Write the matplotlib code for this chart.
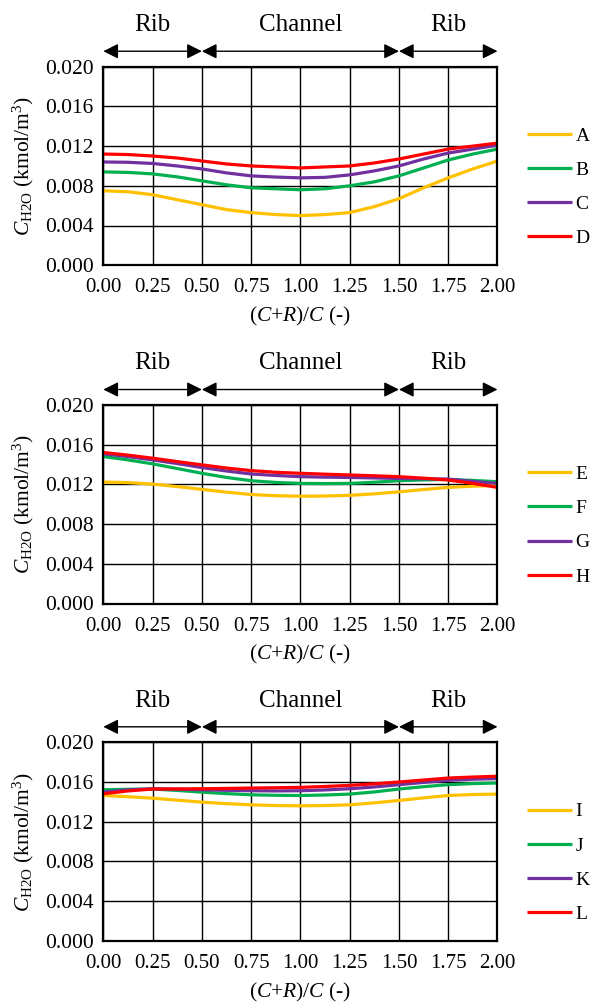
import numpy as np
import matplotlib
matplotlib.use("Agg")
import matplotlib.pyplot as plt

plt.rcParams["font.family"] = ["Liberation Serif", "DejaVu Serif"]
plt.rcParams["mathtext.fontset"] = "custom"
plt.rcParams["mathtext.rm"] = "Liberation Serif"
plt.rcParams["mathtext.it"] = "Liberation Serif:italic"

# position along the cell, (C+R)/C
x = np.arange(0, 2.0001, 0.125)

COLORS = ["#FFC000", "#00B050", "#7030A0", "#FF0000"]

labels_1 = ["A", "B", "C", "D"]
A = [0.0075, 0.0074, 0.0071, 0.0066, 0.0061, 0.0056, 0.0053, 0.0051, 0.0050,
     0.0051, 0.0053, 0.0059, 0.0067, 0.0078, 0.0088, 0.0097, 0.0105]
B = [0.0094, 0.00935, 0.0092, 0.0089, 0.0085, 0.0081, 0.0078, 0.0077, 0.0076,
     0.0077, 0.0080, 0.0084, 0.0090, 0.0098, 0.0106, 0.0112, 0.0117]
C = [0.0104, 0.01037, 0.01025, 0.0100, 0.0097, 0.0093, 0.0090, 0.00888, 0.0088,
     0.00885, 0.0091, 0.0095, 0.0100, 0.0107, 0.0113, 0.0117, 0.0121]
D = [0.0112, 0.01115, 0.0110, 0.0108, 0.0105, 0.0102, 0.0100, 0.0099, 0.0098,
     0.0099, 0.0100, 0.0103, 0.0107, 0.0112, 0.0117, 0.0120, 0.0123]

labels_2 = ["E", "F", "G", "H"]
E = [0.01224, 0.01218, 0.01203, 0.01178, 0.0115, 0.01122, 0.01098, 0.01086, 0.01081,
     0.01083, 0.0109, 0.01105, 0.01125, 0.01148, 0.0117, 0.01182, 0.0119]
F = [0.01481, 0.01447, 0.01407, 0.0136, 0.01312, 0.0127, 0.01237, 0.0122, 0.0121,
     0.01208, 0.0121, 0.01222, 0.01237, 0.01245, 0.0125, 0.0124, 0.01227]
G = [0.01508, 0.0148, 0.01447, 0.0141, 0.0137, 0.01335, 0.01305, 0.0129, 0.01278,
     0.01273, 0.0127, 0.01265, 0.0126, 0.01257, 0.01254, 0.0123, 0.0121]
H = [0.01522, 0.01495, 0.01464, 0.0143, 0.01397, 0.01365, 0.01339, 0.01322, 0.01312,
     0.01303, 0.01295, 0.01287, 0.01278, 0.01263, 0.01244, 0.0121, 0.0117]

labels_3 = ["I", "J", "K", "L"]
I = [0.01464, 0.01452, 0.01437, 0.01417, 0.01397, 0.01382, 0.0137, 0.01363, 0.0136,
     0.01363, 0.0137, 0.0139, 0.01414, 0.0144, 0.01464, 0.01474, 0.01478]
J = [0.01522, 0.01527, 0.01529, 0.01515, 0.01498, 0.01483, 0.01471, 0.01466, 0.01464,
     0.01469, 0.01478, 0.015, 0.01529, 0.01553, 0.01573, 0.01584, 0.0159]
K = [0.01498, 0.0152, 0.01532, 0.01528, 0.01522, 0.01516, 0.01512, 0.0151, 0.01512,
     0.0152, 0.01532, 0.0155, 0.01573, 0.01596, 0.01617, 0.01628, 0.01634]
L = [0.01481, 0.0151, 0.01529, 0.0153, 0.01532, 0.01535, 0.01539, 0.01542, 0.01546,
     0.01555, 0.01566, 0.01582, 0.016, 0.0162, 0.0164, 0.0165, 0.01658]

panels = [
    (labels_1, [A, B, C, D]),
    (labels_2, [E, F, G, H]),
    (labels_3, [I, J, K, L]),
]

regions = [("Rib", 0.0, 0.5), ("Channel", 0.5, 1.5), ("Rib", 1.5, 2.0)]
x_ticks = np.arange(0, 2.01, 0.25)
y_ticks = np.arange(0, 0.0201, 0.004)

fig = plt.figure(figsize=(5.99, 10.06), dpi=100)
W, H_px = 599, 1006
left, right = 103.3, 497.5
tops = [66.7, 405.0, 742.3]
height = 198.5

for (labels, series), top in zip(panels, tops):
    ax = fig.add_axes([left / W, 1 - (top + height) / H_px,
                       (right - left) / W, height / H_px])
    for vals, col, lab in zip(series, COLORS, labels):
        ax.plot(x, vals, color=col, lw=2.3, label=lab, solid_capstyle="butt")

    ax.set_xlim(0, 2)
    ax.set_ylim(0, 0.02)
    ax.set_xticks(x_ticks)
    ax.set_yticks(y_ticks)
    ax.set_xticklabels([f"{v:.2f}" for v in x_ticks], fontsize=15)
    ax.set_yticklabels([f"{v:.3f}" for v in y_ticks], fontsize=15.5)
    ax.tick_params(length=0, pad=7)
    ax.tick_params(axis="x", pad=9.5)
    ax.grid(True, color="black", lw=1.0)
    ax.set_axisbelow(True)
    for sp in ax.spines.values():
        sp.set_linewidth(1.6)
        sp.set_color("black")

    ax.set_xlabel(r"$\mathit{(C{+}R)/C}$ (-)", fontsize=15.5, labelpad=5.5)
    ax.set_ylabel(r"$\mathit{C}_{\mathrm{H2O}}$ (kmol/m$^3$)", fontsize=15.5, labelpad=6)

    # rib / channel markers above the plot
    trans = ax.get_xaxis_transform()
    for name, x0, x1 in regions:
        ax.annotate("", xy=(x1, 1.078), xytext=(x0, 1.078), xycoords=trans,
                    textcoords=trans, annotation_clip=False,
                    arrowprops=dict(arrowstyle="<|-|>,head_length=0.6,head_width=0.3",
                                    mutation_scale=15, color="black", lw=1.0,
                                    shrinkA=0, shrinkB=0))
        ax.text((x0 + x1) / 2, 1.21, name, transform=trans, ha="center",
                va="center", fontsize=18)

    ax.legend(loc="center left", bbox_to_anchor=(1.075, 0.393), frameon=False,
              fontsize=14, handlelength=2.3, handletextpad=0.2,
              labelspacing=0.85, borderpad=0, borderaxespad=0)

fig.savefig("out.png", dpi=100)
